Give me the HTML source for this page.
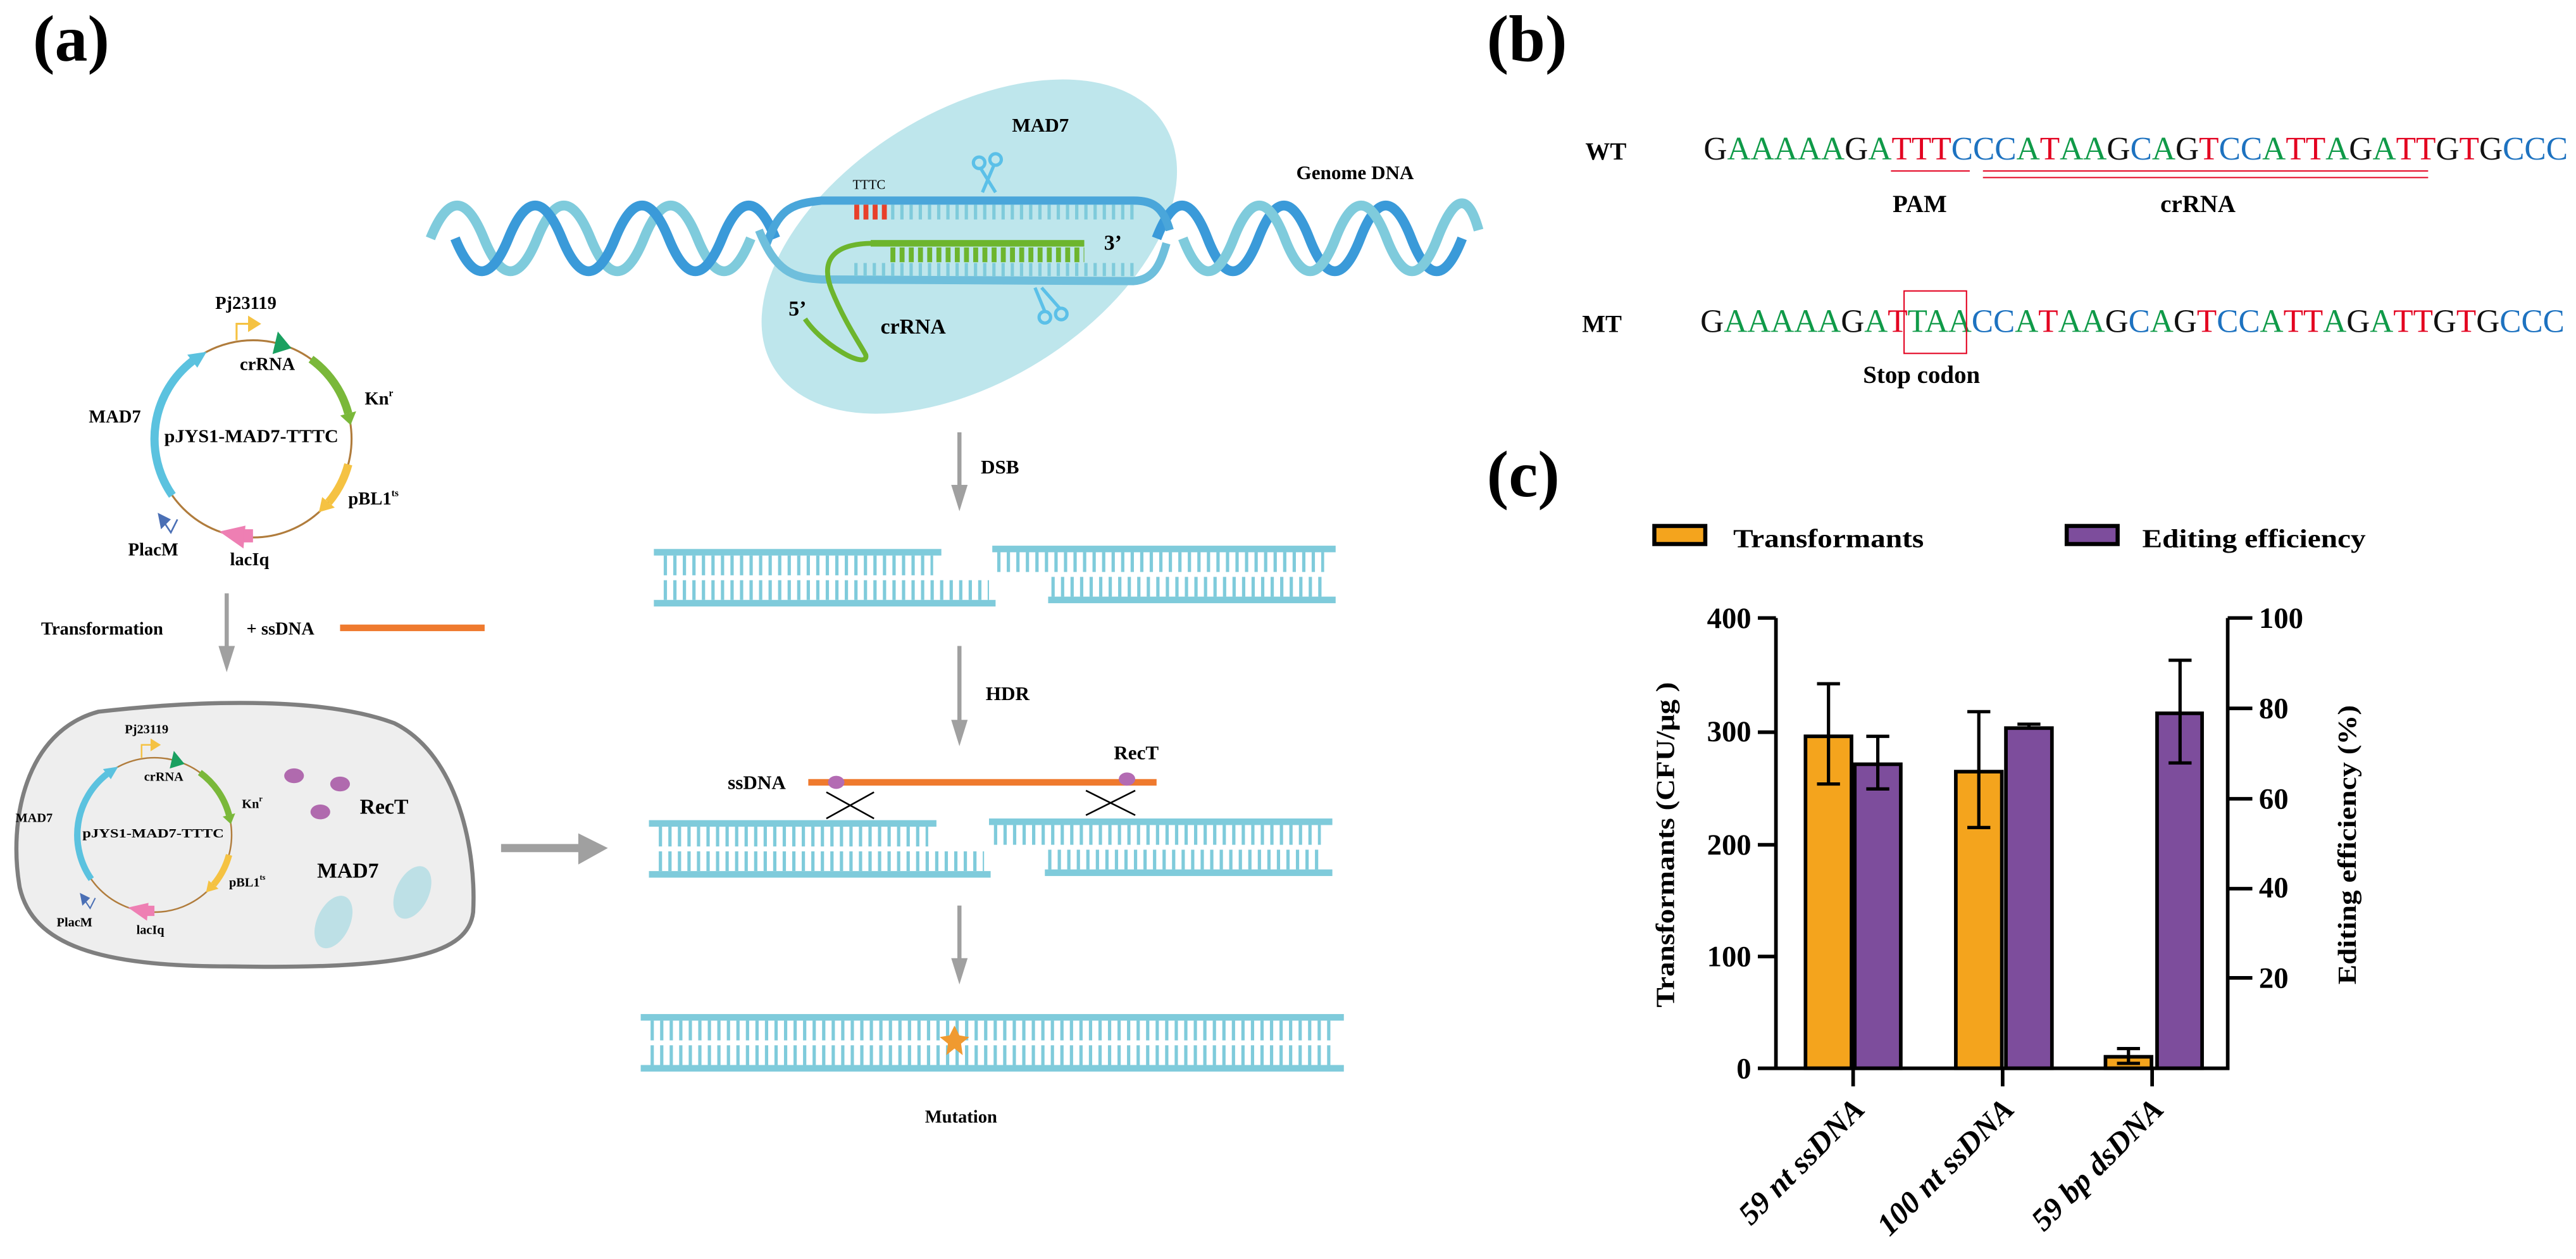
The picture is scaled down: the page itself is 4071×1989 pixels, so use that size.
<!DOCTYPE html>
<html><head><meta charset="utf-8"><style>
html,body{margin:0;padding:0;background:#fff;}
svg{display:block;}
text{font-family:"Liberation Serif",serif;}
</style></head><body>
<svg width="4071" height="1989" viewBox="0 0 1568 766" xmlns="http://www.w3.org/2000/svg">
<rect width="1568" height="766" fill="#fff"/>
<text x="20" y="37" font-size="40" font-weight="bold">(a)</text>
<text x="905" y="37" font-size="40" font-weight="bold">(b)</text>
<text x="905" y="302" font-size="40" font-weight="bold">(c)</text>

<ellipse cx="590" cy="150" rx="140" ry="82" transform="rotate(-32 590 150)" fill="#bee6ec"/>
<text x="616" y="80" font-size="12" font-weight="bold">MAD7</text>
<text x="789" y="109" font-size="12" font-weight="bold">Genome DNA</text>

<path d="M262,145 q16.25,-40 32.5,0 t32.5,0 t32.5,0 t32.5,0 t32.5,0 t32.5,0" fill="none" stroke="#7fcbdc" stroke-width="6"/>
<path d="M277,145 q16.25,40 32.5,0 t32.5,0 t32.5,0 t32.5,0 t32.5,0 t32.5,0" fill="none" stroke="#3a9ad9" stroke-width="6"/>
<path d="M704,145 q15.5,-40 31,0 t31,0 t31,0 t31,0 t31,0 t31,0" fill="none" stroke="#3a9ad9" stroke-width="6"/>
<path d="M720,145 q15.5,40 31,0 t31,0 t31,0 t31,0 t31,0 t25,-5" fill="none" stroke="#7fcbdc" stroke-width="6"/>
<path d="M466,150 C474,128 480,124 500,122 L690,122 C702,122 708,126 712,140" fill="none" stroke="#4aa6da" stroke-width="5"/>
<path d="M462,140 C472,165 482,169 500,170 L690,171 C702,170 706,162 710,148" fill="none" stroke="#6fbfdc" stroke-width="5"/>
<line x1="520" y1="129" x2="690" y2="129" stroke="#7fcbdb" stroke-width="9" stroke-dasharray="2 3.6"/>
<line x1="520" y1="129" x2="541" y2="129" stroke="#e8402a" stroke-width="9" stroke-dasharray="3 2.6"/>
<line x1="520" y1="164" x2="690" y2="164" stroke="#7fcbdb" stroke-width="8" stroke-dasharray="2 3.6"/>
<text x="519" y="115" font-size="8">TTTC</text>
<rect x="530" y="146" width="130" height="4" fill="#6db52d"/>
<line x1="542" y1="155" x2="660" y2="155" stroke="#6db52d" stroke-width="9" stroke-dasharray="3 2.6"/>
<path d="M532,148 C505,148 500,160 506,176 C514,196 524,210 527,216 C528,221 520,219 512,214 C502,208 494,200 490,194" fill="none" stroke="#6db52d" stroke-width="3"/>
<text x="672" y="152" font-size="13" font-weight="bold">3’</text>
<text x="480" y="192" font-size="13" font-weight="bold">5’</text>
<text x="536" y="203" font-size="13" font-weight="bold">crRNA</text>
<g stroke="#5bc0e8" stroke-width="2" fill="none">
<circle cx="596" cy="99" r="3.5"/><circle cx="606" cy="97" r="3.5"/>
<line x1="597" y1="102.5" x2="606" y2="117"/><line x1="605" y1="100.5" x2="598" y2="117"/>
<circle cx="636" cy="193" r="3.5"/><circle cx="646" cy="191" r="3.5"/>
<line x1="636" y1="189.5" x2="630" y2="175"/><line x1="645" y1="187.5" x2="634" y2="175"/>
</g>

<line x1="584" y1="263" x2="584" y2="298" stroke="#a0a0a0" stroke-width="2.5"/>
<polygon points="579,295 589,295 584,311" fill="#a0a0a0"/>
<text x="597" y="288" font-size="12" font-weight="bold">DSB</text>
<g fill="#7fcbdb" stroke="#7fcbdb">
<rect x="398" y="334" width="175" height="4" stroke="none"/>
<line x1="404" y1="344" x2="568" y2="344" stroke-width="12" stroke-dasharray="2 3.8"/>
<line x1="404" y1="359" x2="602" y2="359" stroke-width="12" stroke-dasharray="2 3.8"/>
<rect x="398" y="365" width="208" height="4" stroke="none"/>
<rect x="604" y="332" width="209" height="4" stroke="none"/>
<line x1="607" y1="342" x2="806" y2="342" stroke-width="12" stroke-dasharray="2 3.8"/>
<line x1="640" y1="357" x2="806" y2="357" stroke-width="12" stroke-dasharray="2 3.8"/>
<rect x="638" y="363" width="175" height="4" stroke="none"/>
</g>
<line x1="584" y1="393" x2="584" y2="441" stroke="#a0a0a0" stroke-width="2.5"/>
<polygon points="579,438 589,438 584,454" fill="#a0a0a0"/>
<text x="600" y="426" font-size="12" font-weight="bold">HDR</text>
<rect x="492" y="474" width="212" height="4" fill="#ef7a2e"/>
<ellipse cx="509" cy="476" rx="5" ry="4" fill="#b36bb3"/>
<ellipse cx="686" cy="474" rx="5" ry="4" fill="#b36bb3"/>
<text x="443" y="480" font-size="12" font-weight="bold">ssDNA</text>
<text x="678" y="462" font-size="12" font-weight="bold">RecT</text>
<g stroke="#000" stroke-width="1">
<line x1="503" y1="482" x2="532" y2="498"/><line x1="532" y1="482" x2="503" y2="498"/>
<line x1="661" y1="481" x2="691" y2="496"/><line x1="691" y1="481" x2="661" y2="496"/>
</g>
<g fill="#7fcbdb" stroke="#7fcbdb">
<rect x="395" y="499" width="175" height="4" stroke="none"/>
<line x1="401" y1="509" x2="565" y2="509" stroke-width="12" stroke-dasharray="2 3.8"/>
<line x1="401" y1="524" x2="599" y2="524" stroke-width="12" stroke-dasharray="2 3.8"/>
<rect x="395" y="530" width="208" height="4" stroke="none"/>
<rect x="602" y="498" width="209" height="4" stroke="none"/>
<line x1="605" y1="508" x2="804" y2="508" stroke-width="12" stroke-dasharray="2 3.8"/>
<line x1="638" y1="523" x2="804" y2="523" stroke-width="12" stroke-dasharray="2 3.8"/>
<rect x="636" y="529" width="175" height="4" stroke="none"/>
</g>
<line x1="584" y1="551" x2="584" y2="586" stroke="#a0a0a0" stroke-width="2.5"/>
<polygon points="579,583 589,583 584,599" fill="#a0a0a0"/>
<g fill="#7fcbdb" stroke="#7fcbdb">
<rect x="390" y="617" width="428" height="4" stroke="none"/>
<line x1="396" y1="627" x2="813" y2="627" stroke-width="12" stroke-dasharray="2 3.8"/>
<line x1="396" y1="642" x2="813" y2="642" stroke-width="12" stroke-dasharray="2 3.8"/>
<rect x="390" y="648" width="428" height="4" stroke="none"/>
</g>
<polygon points="581,624 584,630 590,631 585,635 586,642 581,638 576,642 577,635 572,631 578,630" fill="#f09a30"/>
<text x="563" y="683" font-size="11" font-weight="bold">Mutation</text>

<g>
<circle cx="154" cy="267" r="60" fill="none" stroke="#b07c3c" stroke-width="1.2"/>
<path d="M104.9,301.4 A60,60 0 0 1 117.1,219.7" fill="none" stroke="#5bc2df" stroke-width="5"/>
<polygon points="120.1,223.7 114,215.8 125.8,214" fill="#5bc2df"/>
<path d="M189.3,218.5 A60,60 0 0 1 212,251.5" fill="none" stroke="#7ab83a" stroke-width="5"/>
<polygon points="207.1,252.8 216.8,250.2 213.4,258.6" fill="#7ab83a"/>
<path d="M212,282.5 A60,60 0 0 1 200,305.6" fill="none" stroke="#f5c242" stroke-width="5"/>
<polygon points="196.1,302.4 203.8,308.8 194.1,311.6" fill="#f5c242"/>
<polygon points="149.4,319.8 148.2,333.7 133.5,323.4" fill="#ee7fb3"/>
<rect x="148" y="322" width="6" height="8" fill="#ee7fb3"/>
<polygon points="165.9,215.4 169.1,201.7 177.4,211.8" fill="#1aa060"/>
<polyline points="144,207 144,197 152,197" fill="none" stroke="#f5c242" stroke-width="1.2"/>
<polygon points="151,192 151,202 159,197" fill="#f5c242"/>
<polygon points="96,312 104,316 98,322" fill="#4a6fb5"/>
<polyline points="100,318 104,324 108,316" fill="none" stroke="#4a6fb5" stroke-width="1"/>
<g font-size="11" font-weight="bold">
<text x="131" y="188">Pj23119</text>
<text x="146" y="225">crRNA</text>
<text x="222" y="246">Kn<tspan font-size="6" dy="-5">r</tspan></text>
<text x="54" y="257">MAD7</text>
<text x="100" y="269" textLength="106" lengthAdjust="spacingAndGlyphs">pJYS1-MAD7-TTTC</text>
<text x="212" y="307">pBL1<tspan font-size="6" dy="-5">ts</tspan></text>
<text x="78" y="338">PlacM</text>
<text x="140" y="344">lacIq</text>
</g>
</g>
<line x1="138" y1="361" x2="138" y2="396" stroke="#a0a0a0" stroke-width="2.5"/>
<polygon points="133,393 143,393 138,409" fill="#a0a0a0"/>
<text x="25" y="386" font-size="11" font-weight="bold">Transformation</text>
<text x="150" y="386" font-size="11" font-weight="bold">+ ssDNA</text>
<rect x="207" y="380" width="88" height="4" fill="#ef7a2e"/>
<path d="M60,433 C130,425 200,425 240,440 C280,460 290,520 288,555 C285,580 250,590 140,588 C60,588 20,575 12,540 C5,500 15,445 60,433 Z" fill="#eeeeee" stroke="#7f7f7f" stroke-width="2.5"/>
<g transform="translate(94,508) scale(0.783) translate(-154,-267)">
<circle cx="154" cy="267" r="60" fill="none" stroke="#b07c3c" stroke-width="1.2"/>
<path d="M104.9,301.4 A60,60 0 0 1 117.1,219.7" fill="none" stroke="#5bc2df" stroke-width="5"/>
<polygon points="120.1,223.7 114,215.8 125.8,214" fill="#5bc2df"/>
<path d="M189.3,218.5 A60,60 0 0 1 212,251.5" fill="none" stroke="#7ab83a" stroke-width="5"/>
<polygon points="207.1,252.8 216.8,250.2 213.4,258.6" fill="#7ab83a"/>
<path d="M212,282.5 A60,60 0 0 1 200,305.6" fill="none" stroke="#f5c242" stroke-width="5"/>
<polygon points="196.1,302.4 203.8,308.8 194.1,311.6" fill="#f5c242"/>
<polygon points="149.4,319.8 148.2,333.7 133.5,323.4" fill="#ee7fb3"/>
<rect x="148" y="322" width="6" height="8" fill="#ee7fb3"/>
<polygon points="165.9,215.4 169.1,201.7 177.4,211.8" fill="#1aa060"/>
<polyline points="144,207 144,197 152,197" fill="none" stroke="#f5c242" stroke-width="1.2"/>
<polygon points="151,192 151,202 159,197" fill="#f5c242"/>
<polygon points="96,312 104,316 98,322" fill="#4a6fb5"/>
<polyline points="100,318 104,324 108,316" fill="none" stroke="#4a6fb5" stroke-width="1"/>
<g font-size="10" font-weight="bold">
<text x="131" y="188">Pj23119</text>
<text x="146" y="225">crRNA</text>
<text x="222" y="246">Kn<tspan font-size="6" dy="-5">r</tspan></text>
<text x="46" y="257">MAD7</text>
<text x="98" y="269" textLength="110" lengthAdjust="spacingAndGlyphs">pJYS1-MAD7-TTTC</text>
<text x="212" y="307">pBL1<tspan font-size="6" dy="-5">ts</tspan></text>
<text x="78" y="338">PlacM</text>
<text x="140" y="344">lacIq</text>
</g>
</g>
<ellipse cx="179" cy="472" rx="6" ry="4.5" fill="#b06aae"/>
<ellipse cx="207" cy="477" rx="6" ry="4.5" fill="#b06aae"/>
<ellipse cx="195" cy="494" rx="6" ry="4.5" fill="#b06aae"/>
<text x="219" y="495" font-size="13" font-weight="bold">RecT</text>
<text x="193" y="534" font-size="13" font-weight="bold">MAD7</text>
<ellipse cx="203" cy="561" rx="10" ry="17" transform="rotate(25 203 561)" fill="#bde0e6"/>
<ellipse cx="251" cy="543" rx="10" ry="17" transform="rotate(25 251 543)" fill="#bde0e6"/>
<line x1="305" y1="516" x2="354" y2="516" stroke="#a0a0a0" stroke-width="5"/>
<polygon points="352,507 352,526 370,516" fill="#a0a0a0"/>

<text x="965" y="97" font-size="15" font-weight="bold">WT</text>
<text x="1037" y="97" font-size="20" textLength="526" lengthAdjust="spacingAndGlyphs"><tspan fill="#111">G</tspan><tspan fill="#0f9a48">AAAAA</tspan><tspan fill="#111">G</tspan><tspan fill="#0f9a48">A</tspan><tspan fill="#e3001f">TTT</tspan><tspan fill="#1d72c0">CCC</tspan><tspan fill="#0f9a48">A</tspan><tspan fill="#e3001f">T</tspan><tspan fill="#0f9a48">AA</tspan><tspan fill="#111">G</tspan><tspan fill="#1d72c0">C</tspan><tspan fill="#0f9a48">A</tspan><tspan fill="#111">G</tspan><tspan fill="#e3001f">T</tspan><tspan fill="#1d72c0">CC</tspan><tspan fill="#0f9a48">A</tspan><tspan fill="#e3001f">TT</tspan><tspan fill="#0f9a48">A</tspan><tspan fill="#111">G</tspan><tspan fill="#0f9a48">A</tspan><tspan fill="#e3001f">TT</tspan><tspan fill="#111">G</tspan><tspan fill="#e3001f">T</tspan><tspan fill="#111">G</tspan><tspan fill="#1d72c0">CCC</tspan></text>
<line x1="1151" y1="104" x2="1199" y2="104" stroke="#e3001f" stroke-width="0.8"/>
<line x1="1207" y1="104" x2="1478" y2="104" stroke="#e3001f" stroke-width="0.8"/>
<line x1="1207" y1="108" x2="1478" y2="108" stroke="#e3001f" stroke-width="0.8"/>
<text x="1152" y="129" font-size="15" font-weight="bold">PAM</text>
<text x="1315" y="129" font-size="15" font-weight="bold">crRNA</text>
<text x="963" y="202" font-size="15" font-weight="bold">MT</text>
<text x="1035" y="202" font-size="20" textLength="526" lengthAdjust="spacingAndGlyphs"><tspan fill="#111">G</tspan><tspan fill="#0f9a48">AAAAA</tspan><tspan fill="#111">G</tspan><tspan fill="#0f9a48">A</tspan><tspan fill="#e3001f">T</tspan><tspan fill="#0f9a48">TAA</tspan><tspan fill="#1d72c0">CC</tspan><tspan fill="#0f9a48">A</tspan><tspan fill="#e3001f">T</tspan><tspan fill="#0f9a48">AA</tspan><tspan fill="#111">G</tspan><tspan fill="#1d72c0">C</tspan><tspan fill="#0f9a48">A</tspan><tspan fill="#111">G</tspan><tspan fill="#e3001f">T</tspan><tspan fill="#1d72c0">CC</tspan><tspan fill="#0f9a48">A</tspan><tspan fill="#e3001f">TT</tspan><tspan fill="#0f9a48">A</tspan><tspan fill="#111">G</tspan><tspan fill="#0f9a48">A</tspan><tspan fill="#e3001f">TT</tspan><tspan fill="#111">G</tspan><tspan fill="#e3001f">T</tspan><tspan fill="#111">G</tspan><tspan fill="#1d72c0">CCC</tspan></text>
<rect x="1159" y="177" width="38" height="38" fill="none" stroke="#e3001f" stroke-width="0.8"/>
<text x="1134" y="233" font-size="15" font-weight="bold">Stop codon</text>

<rect x="1007" y="320" width="31" height="11" fill="#f4a41d" stroke="#000" stroke-width="2.5"/>
<text x="1055" y="333" font-size="16" font-weight="bold" textLength="116" lengthAdjust="spacingAndGlyphs">Transformants</text>
<rect x="1258" y="320" width="31" height="11" fill="#7d4d9c" stroke="#000" stroke-width="2.5"/>
<text x="1304" y="333" font-size="16" font-weight="bold" textLength="136" lengthAdjust="spacingAndGlyphs">Editing efficiency</text>

<g stroke="#000" stroke-width="2.2">
<rect x="1099" y="448" width="28" height="202" fill="#f4a41d"/>
<rect x="1129" y="465" width="28" height="185" fill="#7d4d9c"/>
<rect x="1190.5" y="469.5" width="28" height="180.5" fill="#f4a41d"/>
<rect x="1221" y="443" width="28" height="207" fill="#7d4d9c"/>
<rect x="1281.6" y="643" width="28" height="7" fill="#f4a41d"/>
<rect x="1313" y="434" width="27.4" height="216" fill="#7d4d9c"/>
</g>
<g stroke="#000" stroke-width="2">
<line x1="1113" y1="416" x2="1113" y2="477"/><line x1="1106" y1="416" x2="1120" y2="416"/><line x1="1106" y1="477" x2="1120" y2="477"/>
<line x1="1143" y1="448" x2="1143" y2="480"/><line x1="1136" y1="448" x2="1150" y2="448"/><line x1="1136" y1="480" x2="1150" y2="480"/>
<line x1="1204.5" y1="433" x2="1204.5" y2="503.5"/><line x1="1197.5" y1="433" x2="1211.5" y2="433"/><line x1="1197.5" y1="503.5" x2="1211.5" y2="503.5"/>
<line x1="1235" y1="440.6" x2="1235" y2="444"/><line x1="1228" y1="440.6" x2="1242" y2="440.6"/>
<line x1="1295.6" y1="638" x2="1295.6" y2="647"/><line x1="1288.6" y1="638" x2="1302.6" y2="638"/><line x1="1288.6" y1="647" x2="1302.6" y2="647"/>
<line x1="1327" y1="401.7" x2="1327" y2="464.2"/><line x1="1320" y1="401.7" x2="1334" y2="401.7"/><line x1="1320" y1="464.2" x2="1334" y2="464.2"/>
</g>
<g stroke="#000" stroke-width="2.2" fill="none">
<line x1="1081" y1="376" x2="1081" y2="651"/>
<line x1="1356" y1="376" x2="1356" y2="651"/>
<line x1="1070" y1="650" x2="1357" y2="650"/>
<line x1="1070" y1="376" x2="1081" y2="376"/><line x1="1070" y1="445.5" x2="1081" y2="445.5"/><line x1="1070" y1="514" x2="1081" y2="514"/><line x1="1070" y1="582" x2="1081" y2="582"/>
<line x1="1356" y1="376" x2="1371" y2="376"/><line x1="1356" y1="431" x2="1371" y2="431"/><line x1="1356" y1="486" x2="1371" y2="486"/><line x1="1356" y1="540.7" x2="1371" y2="540.7"/><line x1="1356" y1="595" x2="1371" y2="595"/>
<line x1="1128" y1="650" x2="1128" y2="661"/><line x1="1219" y1="650" x2="1219" y2="661"/><line x1="1310" y1="650" x2="1310" y2="661"/>
</g>
<g font-size="18" font-weight="bold" text-anchor="end">
<text x="1066" y="382">400</text><text x="1066" y="451">300</text><text x="1066" y="520">200</text><text x="1066" y="588">100</text><text x="1066" y="656">0</text>
</g>
<g font-size="18" font-weight="bold">
<text x="1375" y="382">100</text><text x="1375" y="437">80</text><text x="1375" y="492">60</text><text x="1375" y="546">40</text><text x="1375" y="601">20</text>
</g>
<text transform="translate(1019,514) rotate(-90)" text-anchor="middle" font-size="16" font-weight="bold" textLength="198" lengthAdjust="spacingAndGlyphs">Transformants (CFU/μg )</text>
<text transform="translate(1434,514) rotate(-90)" text-anchor="middle" font-size="16" font-weight="bold" textLength="170" lengthAdjust="spacingAndGlyphs">Editing efficiency (%)</text>
<g font-size="19" font-weight="bold" font-style="italic" text-anchor="end">
<text transform="translate(1136,676) rotate(-45)">59 nt ssDNA</text>
<text transform="translate(1227,676) rotate(-45)">100 nt ssDNA</text>
<text transform="translate(1318,676) rotate(-45)">59 bp dsDNA</text>
</g>
</svg>
</body></html>
